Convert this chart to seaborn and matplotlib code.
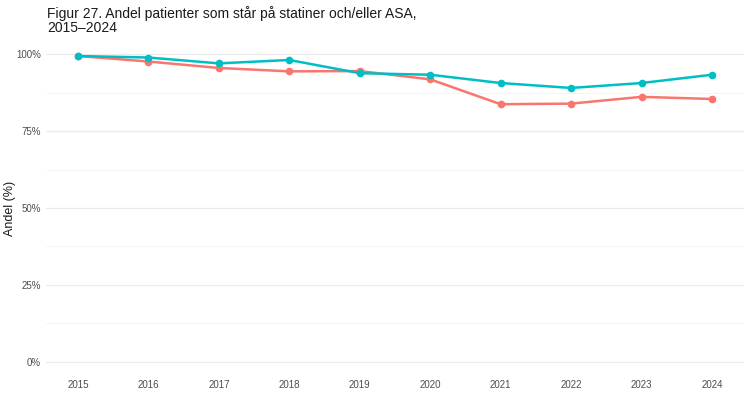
import matplotlib
matplotlib.use("Agg")
import matplotlib.pyplot as plt
import seaborn as sns
import pandas as pd
from matplotlib.ticker import FixedLocator, FuncFormatter

years = [2015, 2016, 2017, 2018, 2019, 2020, 2021, 2022, 2023, 2024]
serie_a = [99.5, 97.7, 95.6, 94.5, 94.6, 91.9, 83.8, 84.0, 86.2, 85.5]
serie_b = [99.5, 99.0, 97.1, 98.2, 93.9, 93.4, 90.7, 89.1, 90.7, 93.4]
series_names = ["Serie A", "Serie B"]
y_ticks = [0, 25, 50, 75, 100]

df = pd.DataFrame({
    "År": years * 2,
    "Andel": serie_a + serie_b,
    "Grupp": [series_names[0]] * len(years) + [series_names[1]] * len(years),
})

sns.set_theme(style="white")
plt.rcParams['font.family'] = ['Liberation Sans', 'DejaVu Sans']

fig = plt.figure(figsize=(7.5, 3.95), dpi=100)
ax = fig.add_axes([0.0617, 0.0456, 0.9299, 0.8554])

palette = {series_names[0]: "#F8766D", series_names[1]: "#00BFC4"}
sns.lineplot(data=df, x="År", y="Andel", hue="Grupp", palette=palette,
             marker="o", markersize=5.5, markeredgewidth=0, linewidth=1.8,
             legend=False, ax=ax)

ax.set_xlim(2014.55, 2024.45)
ax.set_ylim(-5, 105)
ax.set_xticks(years)
ax.set_xticklabels([str(y) for y in years])
ax.yaxis.set_major_locator(FixedLocator(y_ticks))
ax.yaxis.set_major_formatter(FuncFormatter(lambda v, p: f"{int(v)}%"))
ax.yaxis.set_minor_locator(FixedLocator([12.5, 37.5, 62.5, 87.5]))

ax.grid(False)
ax.grid(True, axis="y", which="major", color="#EBEBEB", linewidth=0.9)
ax.grid(True, axis="y", which="minor", color="#F3F3F3", linewidth=0.6)
ax.set_axisbelow(True)
for s in ax.spines.values():
    s.set_visible(False)

ax.tick_params(axis="both", which="both", length=0, labelsize=7, labelcolor="#4D4D4D")
ax.tick_params(axis="x", pad=2)
ax.tick_params(axis="y", pad=4)
ax.set_xlabel("")
ax.set_ylabel("Andel (%)", fontsize=9, color="#1A1A1A")
ax.yaxis.set_label_coords(-0.043, 0.5)

fig.text(0.063, 0.985, "Figur 27. Andel patienter som står på statiner och/eller ASA,\n2015–2024",
         fontsize=10, color="#1A1A1A", ha="left", va="top", linespacing=1.0)

fig.savefig("out.png", dpi=100)
